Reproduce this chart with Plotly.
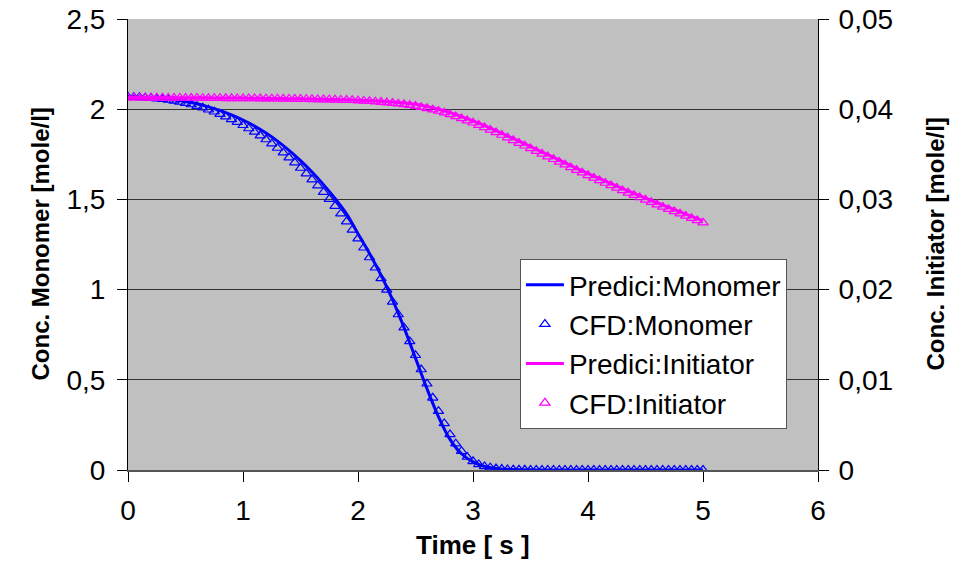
import plotly.graph_objects as go

# ---- data ----
pred_time = [round(i * 0.1, 1) for i in range(51)]
pred_monomer = [2.070, 2.068, 2.065, 2.060, 2.052, 2.042, 2.030, 2.013, 1.993, 1.968,
                1.940, 1.907, 1.868, 1.823, 1.772, 1.715, 1.652, 1.582, 1.505, 1.420,
                1.310, 1.200, 1.080, 0.945, 0.790, 0.620, 0.450, 0.295, 0.170, 0.090,
                0.045, 0.020, 0.009, 0.004, 0.002, 0.001, 0.000, 0.000, 0.000, 0.000,
                0.000, 0.000, 0.000, 0.000, 0.000, 0.000, 0.000, 0.000, 0.000, 0.000,
                0.000]
pred_initiator = [0.04130, 0.04130, 0.04129, 0.04129, 0.04128, 0.04128, 0.04127, 0.04126, 0.04125, 0.04124,
                  0.04123, 0.04122, 0.04120, 0.04119, 0.04117, 0.04115, 0.04113, 0.04110, 0.04107, 0.04104,
                  0.04100, 0.04095, 0.04089, 0.04081, 0.04070, 0.04055, 0.04030, 0.04000, 0.03962, 0.03918,
                  0.03870, 0.03818, 0.03762, 0.03705, 0.03645, 0.03585, 0.03525, 0.03465, 0.03405, 0.03345,
                  0.03287, 0.03230, 0.03175, 0.03120, 0.03067, 0.03015, 0.02963, 0.02912, 0.02862, 0.02812,
                  0.02762]

cfd_monomer = [2.068, 2.067, 2.066, 2.064, 2.062, 2.059, 2.056, 2.051, 2.046, 2.040,
               2.033, 2.026, 2.017, 2.008, 1.997, 1.986, 1.973, 1.959, 1.944, 1.928,
               1.911, 1.893, 1.874, 1.854, 1.832, 1.809, 1.785, 1.759, 1.732, 1.704,
               1.674, 1.643, 1.610, 1.576, 1.540, 1.502, 1.463, 1.421, 1.377, 1.331,
               1.283, 1.232, 1.178, 1.121, 1.062, 0.999, 0.932, 0.862, 0.789, 0.713,
               0.636, 0.557, 0.478, 0.400, 0.326, 0.258, 0.197, 0.146, 0.104, 0.072,
               0.048, 0.031, 0.020, 0.013, 0.008, 0.005, 0.003, 0.002, 0.001, 0.001,
               0.000, 0.000, 0.000, 0.000, 0.000, 0.000, 0.000, 0.000, 0.000, 0.000,
               0.000, 0.000, 0.000, 0.000, 0.000, 0.000, 0.000, 0.000, 0.000, 0.000,
               0.000, 0.000, 0.000, 0.000, 0.000, 0.000, 0.000, 0.000, 0.000, 0.000,
               0.000]
cfd_initiator = [0.04127, 0.04127, 0.04127, 0.04126, 0.04126, 0.04126, 0.04126, 0.04125, 0.04125, 0.04125,
                 0.04124, 0.04124, 0.04124, 0.04123, 0.04123, 0.04122, 0.04122, 0.04121, 0.04121, 0.04120,
                 0.04120, 0.04119, 0.04119, 0.04118, 0.04117, 0.04117, 0.04116, 0.04115, 0.04114, 0.04113,
                 0.04112, 0.04111, 0.04110, 0.04108, 0.04107, 0.04105, 0.04104, 0.04102, 0.04101, 0.04099,
                 0.04095, 0.04092, 0.04088, 0.04084, 0.04079, 0.04074, 0.04068, 0.04061, 0.04054, 0.04045,
                 0.04035, 0.04022, 0.04010, 0.03995, 0.03980, 0.03961, 0.03942, 0.03920, 0.03898, 0.03874,
                 0.03850, 0.03824, 0.03798, 0.03770, 0.03742, 0.03714, 0.03685, 0.03655, 0.03625, 0.03595,
                 0.03565, 0.03535, 0.03505, 0.03475, 0.03445, 0.03415, 0.03385, 0.03355, 0.03325, 0.03296,
                 0.03267, 0.03238, 0.03210, 0.03182, 0.03155, 0.03127, 0.03100, 0.03073, 0.03047, 0.03021,
                 0.02995, 0.02969, 0.02943, 0.02917, 0.02892, 0.02867, 0.02842, 0.02817, 0.02792, 0.02767,
                 0.02742]
cfd_time = [round(i * 0.05, 2) for i in range(len(cfd_monomer))]

left_ticks = [0, 0.5, 1, 1.5, 2, 2.5]
right_ticks = [0, 0.01, 0.02, 0.03, 0.04, 0.05]
x_ticks = [0, 1, 2, 3, 4, 5, 6]

x_title = "Time [ s ]"
left_title = "Conc. Monomer [mole/l]"
right_title = "Conc. Initiator [mole/l]"

BLUE = "#0000FF"
MAGENTA = "#FF00FF"
FONT = "Liberation Sans, Arial, sans-serif"
TICK_SIZE = 28
LEGEND_SIZE = 28
TITLE_SIZE = 24

fig = go.Figure()
fig.add_trace(go.Scatter(x=pred_time, y=pred_monomer, mode="lines", name="Predici:Monomer",
                         line=dict(color=BLUE, width=3, shape="spline"), legendgroup="a"))
fig.add_trace(go.Scatter(x=cfd_time, y=cfd_monomer, mode="markers", name="CFD:Monomer",
                         marker=dict(symbol="triangle-up-open", size=9, color=BLUE,
                                     line=dict(width=1.2, color=BLUE)), legendgroup="b"))
fig.add_trace(go.Scatter(x=pred_time, y=pred_initiator, mode="lines", name="Predici:Initiator",
                         line=dict(color=MAGENTA, width=3, shape="spline"), yaxis="y2", legendgroup="c"))
fig.add_trace(go.Scatter(x=cfd_time, y=cfd_initiator, mode="markers", name="CFD:Initiator",
                         marker=dict(symbol="triangle-up-open", size=9, color=MAGENTA,
                                     line=dict(width=1.2, color=MAGENTA)), yaxis="y2", legendgroup="d"))

fig.update_layout(
    width=963, height=562,
    margin=dict(l=128, r=145, t=19, b=92),
    paper_bgcolor="white",
    plot_bgcolor="#C0C0C0",
    separators=", ",
    font=dict(family=FONT, size=TICK_SIZE, color="black"),
    showlegend=True,
    legend=dict(x=0.568, y=0.468, xanchor="left", yanchor="top",
                bgcolor="white", bordercolor="#555555", borderwidth=1,
                font=dict(family=FONT, size=LEGEND_SIZE, color="black"),
                tracegroupgap=0, itemwidth=38),
    xaxis=dict(range=[0, 6], tickvals=x_ticks, showgrid=False, zeroline=False, automargin=False,
               showline=True, linecolor="#555555", linewidth=2,
               ticks="outside", ticklen=10, tickcolor="black", ticklabelstandoff=4,
               ticklabeloverflow="allow", tickfont=dict(size=TICK_SIZE)),
    yaxis=dict(range=[0, 2.5], tickvals=left_ticks, showgrid=True, gridcolor="#333333", gridwidth=1,
               zeroline=False, showline=True, linecolor="black", linewidth=1, automargin=False,
               ticks="outside", ticklen=10, tickcolor="black", ticklabelstandoff=6,
               ticklabeloverflow="allow", tickfont=dict(size=TICK_SIZE)),
    yaxis2=dict(range=[0, 0.05], tickvals=right_ticks, overlaying="y", side="right",
                showgrid=False, zeroline=False, showline=True, linecolor="black", linewidth=1,
                automargin=False, ticks="outside", ticklen=10, tickcolor="black", ticklabelstandoff=4,
                ticklabeloverflow="allow", tickfont=dict(size=TICK_SIZE)),
    annotations=[
        dict(text="<b>" + x_title + "</b>", xref="paper", yref="paper", x=0.5, y=-0.166,
             xanchor="center", yanchor="middle", showarrow=False, font=dict(size=26)),
        dict(text="<b>" + left_title + "</b>", xref="paper", yref="paper", x=-0.1275, y=0.5,
             xanchor="center", yanchor="middle", textangle=-90, showarrow=False,
             font=dict(size=TITLE_SIZE)),
        dict(text="<b>" + right_title + "</b>", xref="paper", yref="paper", x=1.1696, y=0.5,
             xanchor="center", yanchor="middle", textangle=-90, showarrow=False,
             font=dict(size=TITLE_SIZE)),
    ],
)

fig.write_html("out.html", config={"displayModeBar": False},
               post_script="document.body.style.margin='0';document.body.style.overflow='hidden';")
